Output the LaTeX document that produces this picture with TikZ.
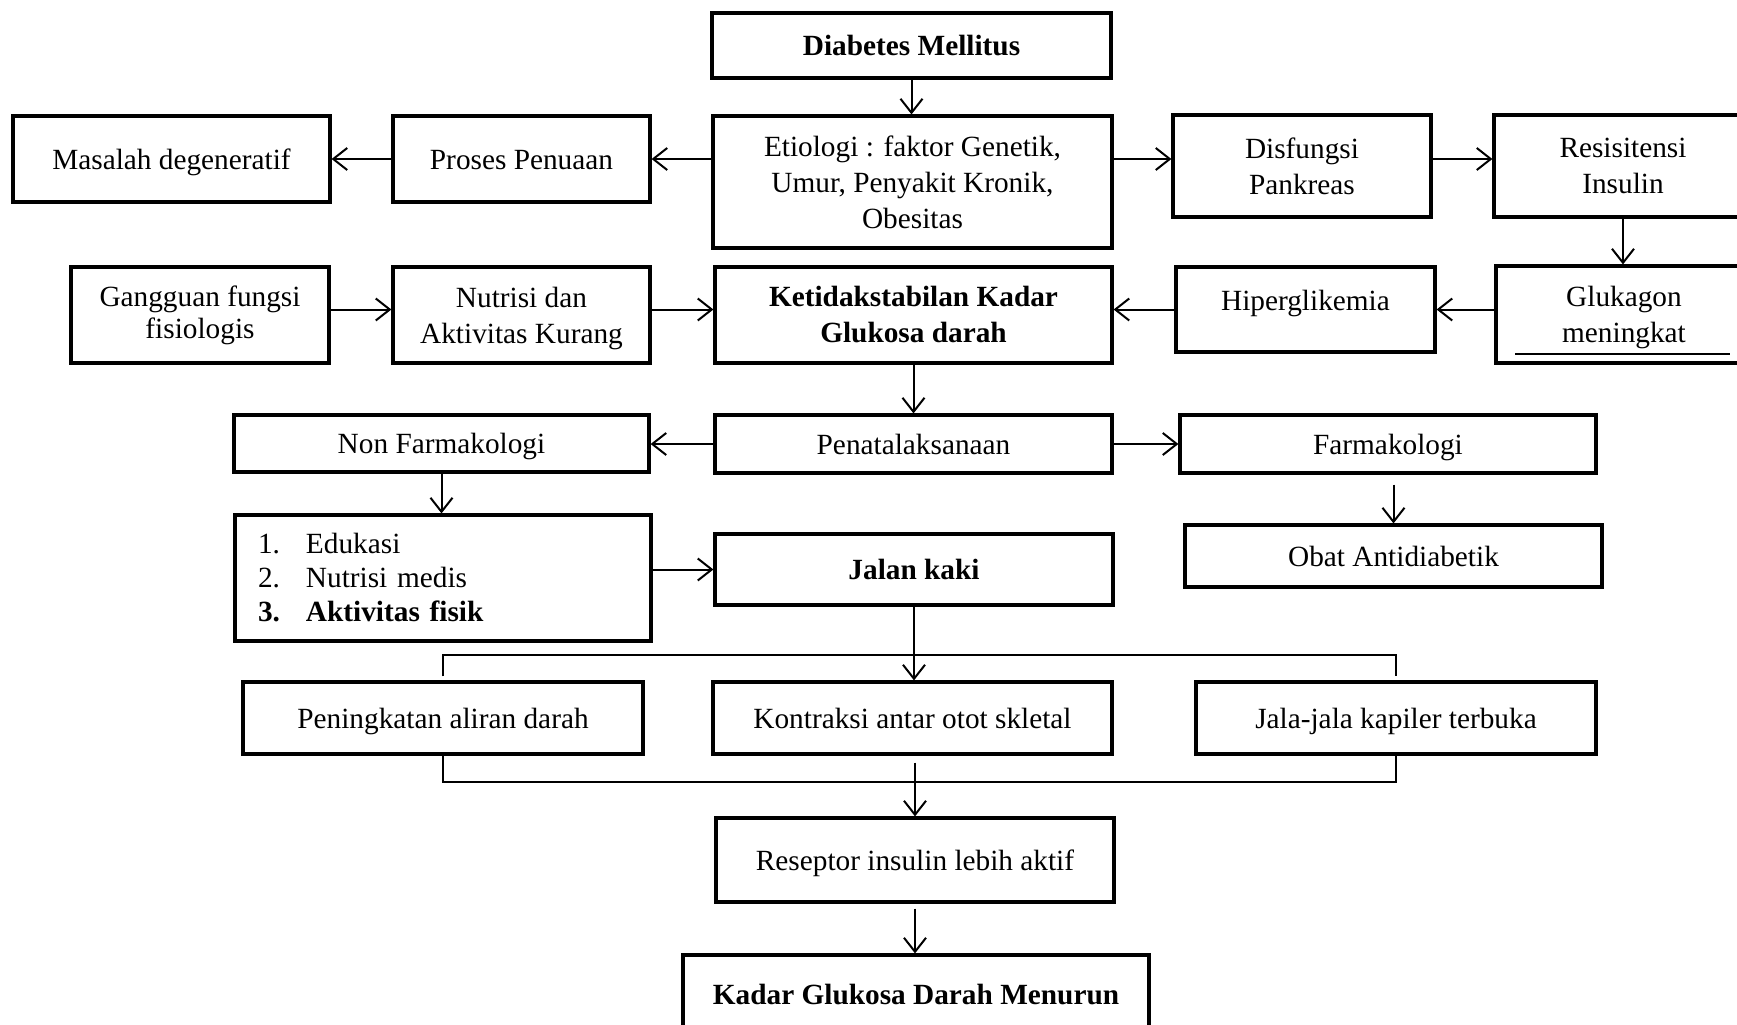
\documentclass[tikz,border=0pt]{standalone}
\usepackage{fontspec}
\setmainfont{Liberation Serif}
\usetikzlibrary{arrows.meta}
\newcommand{\boxfont}{\fontsize{14.65}{18}\selectfont}

\begin{document}
\begin{tikzpicture} [x=0.5pt, y=-0.5pt,
        box/.style={draw, line width=1.6pt, align=center, inner sep=2pt, font=\boxfont},
        boldbox/.style={box, font=\boxfont\bfseries},
        oneline/.style={text height=10pt, text depth=0pt},
        arr/.style={line width=1pt, -{Straight Barb[length=7pt, width=11pt]}},
        link/.style={line width=0.8pt}]
        \useasboundingbox (0,0) rectangle (1737,1024);
        \clip (0,0) rectangle (1737,1024);

        % top row
        \node (dm)
        [boldbox, oneline, minimum width=199.5pt, minimum height=32.5pt] at (911.5,45.5)
        {Diabetes Mellitus};
        \node (etio)
        [box, minimum width=199.5pt, minimum height=66pt] at (912.5,182)
        {Etiologi : faktor Genetik,\\Umur, Penyakit Kronik,\\Obesitas};
        \node (proses)
        [box, oneline, minimum width=128.5pt, minimum height=43pt] at (521.5,159)
        {Proses Penuaan};
        \node (masalah)
        [box, oneline, minimum width=158.5pt, minimum height=43pt] at (171.5,159)
        {Masalah degeneratif};
        \node (disf)
        [box, minimum width=129pt, minimum height=51pt] at (1302,166)
        {Disfungsi\\Pankreas};
        \node (resis)
        [box, minimum width=129pt, minimum height=51pt] at (1623,166)
        {Resisitensi\\Insulin};

        % second row
        \node (gluk)
        [box, minimum width=128pt, minimum height=48.5pt] at (1624,314.5)
        {Glukagon\\\smash{meningkat}};
        \node (hiper)
        [box, minimum width=129.5pt, minimum height=42.5pt, text height=10pt, text depth=9.3pt] at (1305.5,309.5)
        {Hiperglikemia};
        \node (ketid)
        [boldbox, minimum width=198.5pt, minimum height=48pt] at (913.5,315)
        {Ketidakstabilan Kadar\\Glukosa darah};
        \node (nutri)
        [box, minimum width=128.5pt, minimum height=48pt] at (521.5,315)
        {Nutrisi dan\\\smash{Aktivitas Kurang}};
        \node (gangg)
        [box, minimum width=129pt, minimum height=48pt, font=\fontsize{14.65}{16}\selectfont] at (200,315)
        {Gangguan fungsi\\fisiologis};

        % management
        \node (penat)
        [box, oneline, minimum width=198.5pt, minimum height=29pt] at (913.5,444)
        {Penatalaksanaan};
        \node (nonf)
        [box, oneline, minimum width=207.5pt, minimum height=28.5pt] at (441.5,443.5)
        {Non Farmakologi};
        \node (farm)
        [box, oneline, minimum width=208pt, minimum height=29pt] at (1388,444)
        {Farmakologi};
        \node (list)
        [box, align=left, inner xsep=11.5pt, text width=185pt, minimum height=63pt, font=\fontsize{14.65}{17}\selectfont] at (443,578)
        {\makebox[24pt][l]{1.}Edukasi\\\makebox[24pt][l]{2.}Nutrisi medis\\\textbf{\makebox[24pt][l]{3.}Aktivitas fisik}};
        \node (jalan)
        [boldbox, oneline, minimum width=199pt, minimum height=35.5pt] at (914,569.5)
        {Jalan kaki};
        \node (obat)
        [box, oneline, minimum width=208.5pt, minimum height=31pt] at (1393.5,556)
        {Obat Antidiabetik};

        % effects
        \node (pening)
        [box, oneline, minimum width=200pt, minimum height=36pt] at (443,718)
        {Peningkatan aliran darah};
        \node (kontr)
        [box, oneline, minimum width=199.5pt, minimum height=36pt] at (912.5,718)
        {Kontraksi antar otot skletal};
        \node (jala)
        [box, oneline, minimum width=200pt, minimum height=36pt] at (1396,718)
        {Jala-jala kapiler terbuka};
        \node (resep)
        [box, oneline, minimum width=199pt, minimum height=42pt] at (915,860)
        {Reseptor insulin lebih aktif};
        \node (kadar)
        [boldbox, oneline, minimum width=233pt, minimum height=39pt] at (916,994)
        {Kadar Glukosa Darah Menurun};

        \path [arr]
        (dm.south) edge (dm.south |- etio.north)
        (etio.west |- proses) edge (proses.east)
        (proses.west) edge (masalah.east)
        (etio.east |- proses) edge (disf.west |- proses)
        (disf.east |- proses) edge (resis.west |- proses)
        (resis.south) edge (resis.south |- gluk.north)
        (gluk.west |- hiper) edge (hiper.east)
        (hiper.west) edge (ketid.east |- hiper)
        (gangg.east |- hiper) edge (nutri.west |- hiper)
        (nutri.east |- hiper) edge (ketid.west |- hiper)
        (ketid.south) edge (penat.north)
        (penat.west) edge (nonf.east |- penat)
        (penat.east) edge (farm.west |- penat)
        (nonf.south) edge (nonf.south |- list.north)
        (farm.south -| obat) edge [shorten <=5pt] (obat.north)
        (list.east |- jalan) edge (jalan.west)
        (jalan.south) edge (jalan.south |- kontr.north)
        (kontr.south -| resep) edge [shorten <=3.5pt] (resep.north)
        (resep.south) edge [shorten <=2.5pt] (resep.south |- kadar.north)
        ;

        \coordinate (top) at (913,655);
        \coordinate (bot) at (913,782);
        \draw [link] ([yshift=2pt]pening.north) |- (top) -| ([yshift=2pt]jala.north);
        \draw [link] (pening.south) |- (bot) -| (jala.south);
        \draw [line width=1pt] ([xshift=10.5pt, yshift=5.5pt]gluk.south west) -- ++(215,0);
    \end{tikzpicture}
\end{document}
